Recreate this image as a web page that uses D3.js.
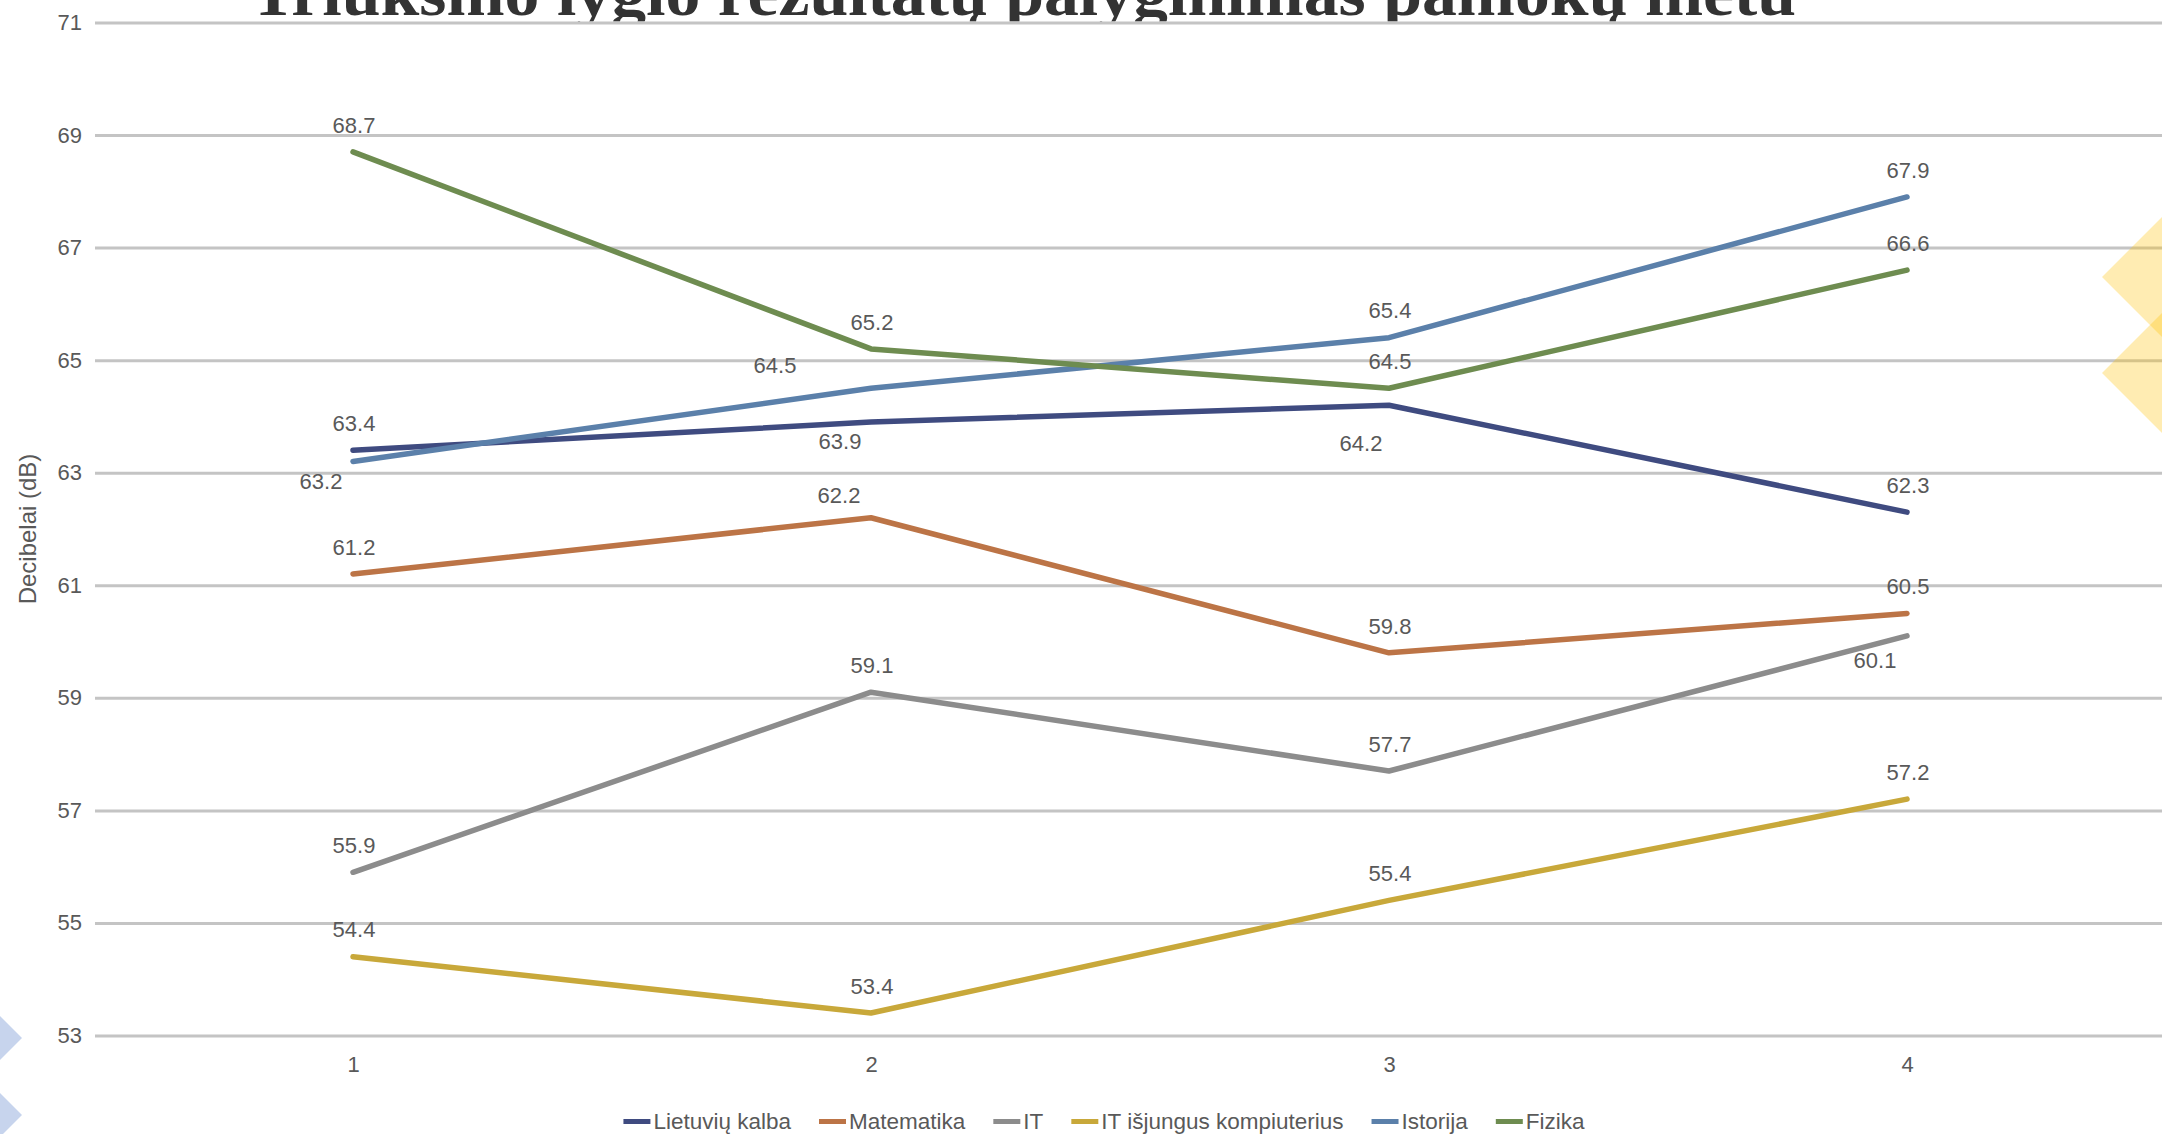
<!DOCTYPE html>
<html>
<head>
<meta charset="utf-8">
<script src="https://cdn.jsdelivr.net/npm/d3@7"></script>
<style>
  html, body { margin: 0; padding: 0; background: #ffffff; overflow: hidden; }
  svg { display: block; }
</style>
</head>
<body>
<svg id="chart"></svg>
<script>
// ---- chart data ----
const categories = ["1", "2", "3", "4"];
const seriesNames = ["Lietuvių kalba", "Matematika", "IT", "IT išjungus kompiuterius", "Istorija", "Fizika"];
const lietuviuKalba = [63.4, 63.9, 64.2, 62.3];
const matematika    = [61.2, 62.2, 59.8, 60.5];
const itPamoka      = [55.9, 59.1, 57.7, 60.1];
const itIsjungus    = [54.4, 53.4, 55.4, 57.2];
const istorija      = [63.2, 64.5, 65.4, 67.9];
const fizika        = [68.7, 65.2, 64.5, 66.6];
const yTickValues   = [53, 55, 57, 59, 61, 63, 65, 67, 69, 71];
const titleText     = "Triukšmo lygio rezultatų palyginimas pamokų metu";
const yAxisTitle    = "Decibelai (dB)";

const seriesValues = [lietuviuKalba, matematika, itPamoka, itIsjungus, istorija, fizika];
const seriesColors = ["#3f4b80", "#bc7446", "#8c8c8c", "#c8a83a", "#5b80aa", "#6e8c50"];

// ---- layout ----
const W = 2162, H = 1134;
const svg = d3.select("#chart").attr("width", W).attr("height", H);
const font = "'Liberation Sans', Arial, sans-serif";
const textGray = "#595959";

const x = d3.scalePoint().domain(categories).range([94, 2166]).padding(0.5);
const y = d3.scaleLinear().domain([53, 71]).range([1035.5, 22.5]);

// slide title, partly hidden behind the chart area
svg.append("clipPath").attr("id", "titleClip")
  .append("rect").attr("x", 0).attr("y", -200).attr("width", W).attr("height", 221.5);
svg.append("text")
  .attr("clip-path", "url(#titleClip)")
  .attr("x", 250).attr("y", 15)
  .attr("textLength", 1546).attr("lengthAdjust", "spacingAndGlyphs")
  .attr("font-family", "'Liberation Serif', 'DejaVu Serif', serif")
  .attr("font-weight", "bold")
  .attr("font-size", 64)
  .attr("fill", "#333333")
  .text(titleText);

// horizontal gridlines
const grid = svg.append("g").attr("transform", "translate(95,0)")
  .call(d3.axisLeft(y).tickValues(yTickValues).tickSize(-(W - 95)).tickFormat(""));
grid.select(".domain").remove();
grid.selectAll("line").attr("stroke", "#c4c4c4").attr("stroke-width", 3);

// y tick labels
const yAx = svg.append("g").attr("transform", "translate(82,0)")
  .call(d3.axisLeft(y).tickValues(yTickValues).tickSize(0).tickPadding(0).tickFormat(d3.format("d")));
yAx.select(".domain").remove();
yAx.selectAll("text").attr("font-family", font).attr("font-size", 22).attr("fill", textGray);

// x tick labels
const xAx = svg.append("g").attr("transform", "translate(0,1064)")
  .call(d3.axisBottom(x).tickSize(0).tickPadding(0));
xAx.select(".domain").remove();
xAx.selectAll("text").attr("y", 0).attr("dy", "0.35em")
  .attr("font-family", font).attr("font-size", 22).attr("fill", textGray);

// y axis title
svg.append("text")
  .attr("transform", "translate(28,529) rotate(-90)")
  .attr("text-anchor", "middle").attr("dy", "0.35em")
  .attr("font-family", font).attr("font-size", 24).attr("fill", textGray)
  .text(yAxisTitle);

// series lines
const line = d3.line().x((d, i) => x(categories[i])).y(d => y(d));
svg.append("g").selectAll("path")
  .data(seriesValues)
  .join("path")
  .attr("d", d => line(d))
  .attr("fill", "none")
  .attr("stroke", (d, i) => seriesColors[i])
  .attr("stroke-width", 5.5)
  .attr("stroke-linejoin", "round")
  .attr("stroke-linecap", "round");

// value labels: default sits just above the point, a few are moved aside to avoid crossings
const labelShift = {
  "0-1": [-31, 19.5],
  "0-2": [-28, 38],
  "1-1": [-32, -22.4],
  "2-3": [-32, 24],
  "4-0": [-32, 20],
  "4-1": [-96, -23.5]
};
const labelData = [];
seriesValues.forEach((vals, s) => vals.forEach((v, i) => {
  const sh = labelShift[s + "-" + i] || [1, -27];
  labelData.push({ v, cx: x(categories[i]) + sh[0], cy: y(v) + sh[1] });
}));
svg.append("g").selectAll("text")
  .data(labelData)
  .join("text")
  .attr("x", d => d.cx).attr("y", d => d.cy)
  .attr("text-anchor", "middle").attr("dy", "0.35em")
  .attr("font-family", font).attr("font-size", 22).attr("fill", textGray)
  .text(d => d3.format(".1f")(d.v));

// legend
const legend = svg.append("g");
const items = legend.selectAll("g").data(seriesNames).join("g");
items.append("line")
  .attr("x1", 0).attr("x2", 27).attr("y1", 0).attr("y2", 0)
  .attr("stroke", (d, i) => seriesColors[i]).attr("stroke-width", 5);
items.append("text")
  .attr("x", 30).attr("dy", "0.35em")
  .attr("font-family", font).attr("font-size", 22.5).attr("fill", textGray)
  .text(d => d);
let offset = 0;
const gap = 28;
items.each(function () {
  const w = 30 + d3.select(this).select("text").node().getComputedTextLength();
  d3.select(this).attr("transform", `translate(${offset},0)`);
  offset += w + gap;
});
const legendWidth = offset - gap;
legend.attr("transform", `translate(${1104 - legendWidth / 2},1121.5)`);

// slide decoration: translucent diamonds at the edges
const diamond = (cx, cy, r) => `M${cx - r},${cy}L${cx},${cy - r}L${cx + r},${cy}L${cx},${cy + r}Z`;
const deco = svg.append("g");
[[2202, 277], [2202, 373]].forEach(([cx, cy]) =>
  deco.append("path").attr("d", diamond(cx, cy, 100)).attr("fill", "#ffc000").attr("fill-opacity", 0.3));
[[-38, 1038], [-38, 1115]].forEach(([cx, cy]) =>
  deco.append("path").attr("d", diamond(cx, cy, 60)).attr("fill", "#4472c4").attr("fill-opacity", 0.3));
</script>
</body>
</html>
